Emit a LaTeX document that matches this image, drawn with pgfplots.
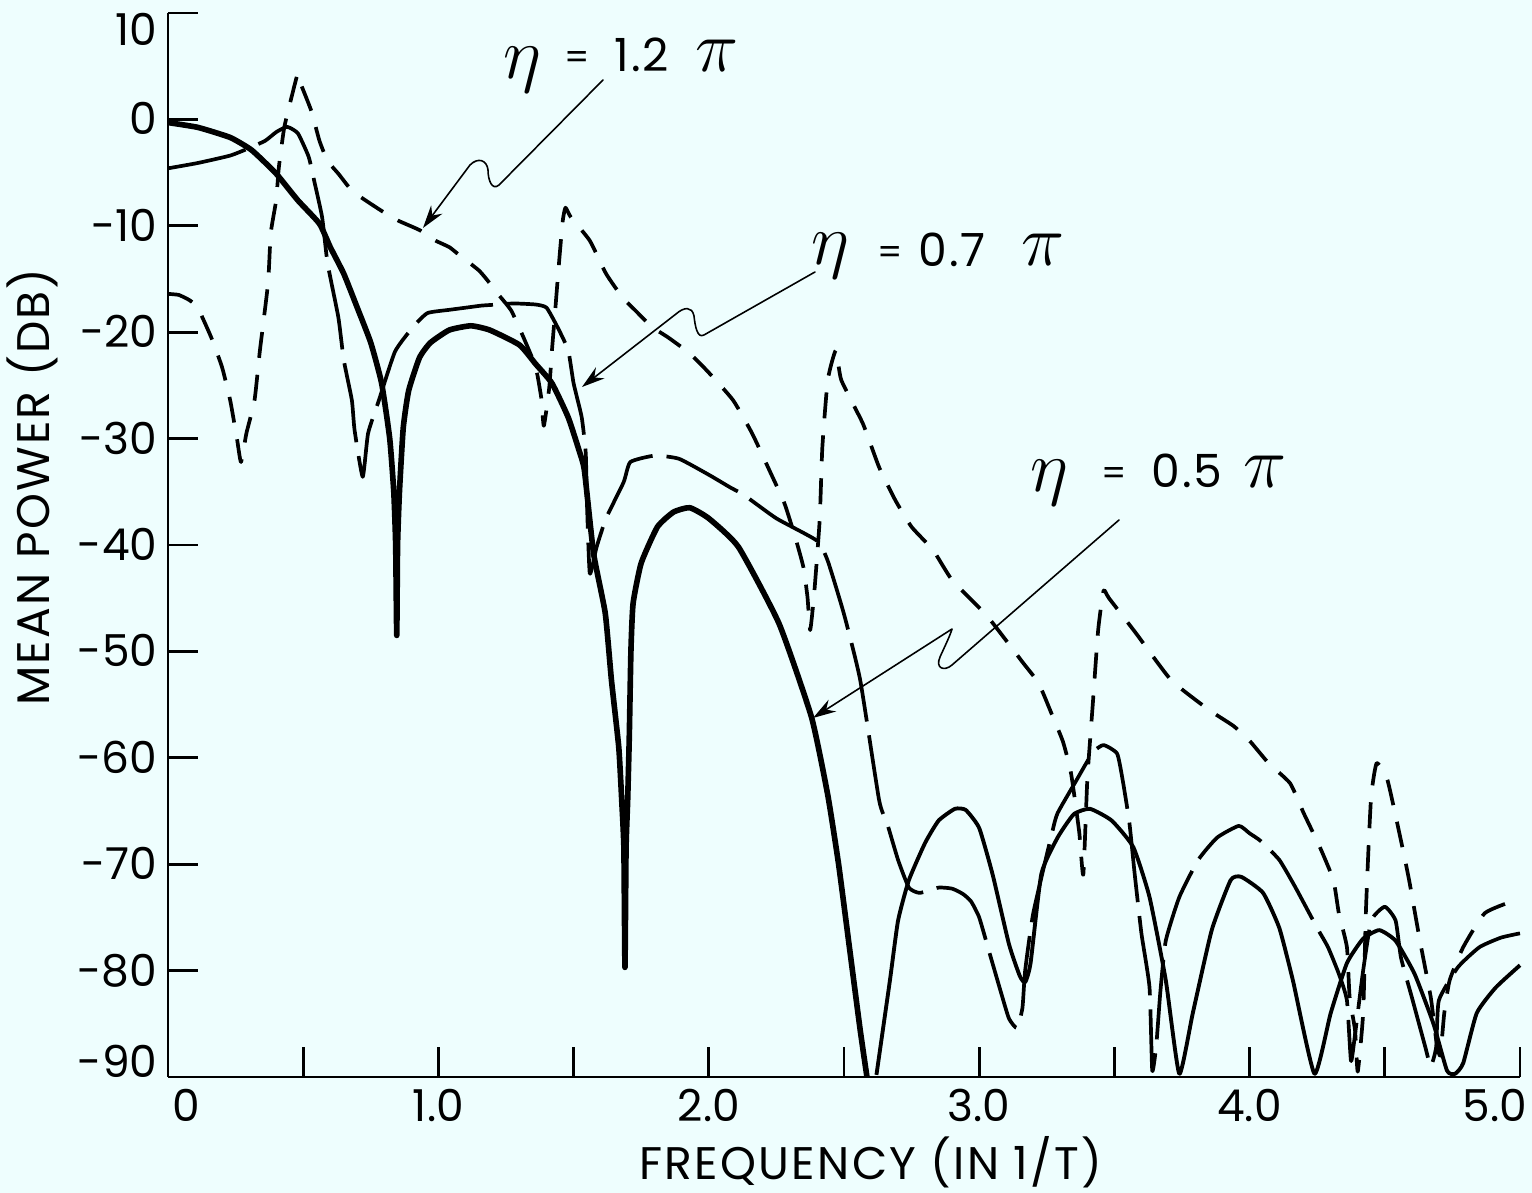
\documentclass[border=0pt]{standalone}
\usepackage{pgfplots}
\pgfplotsset{compat=1.18}
\usepackage{fontspec}
\setmainfont{Poppins}
\usetikzlibrary{arrows.meta}
\definecolor{paper}{RGB}{238,254,254}

\begin{document}
\begin{tikzpicture}[line cap=round, line join=round]
\fill[paper] (0,0) rectangle (153.2mm,119.3mm);
\useasboundingbox (0,0) rectangle (153.2mm,119.3mm);

\begin{axis}[
  at={(16.8mm,11.6mm)}, anchor=south west,
  scale only axis, width=135.2mm, height=106.4mm,
  xmin=0, xmax=5, ymin=-90, ymax=10,
  axis lines=left, axis line style={-, line width=0.8pt},
  tick align=inside, major tick length=3mm,
  tick style={line width=0.8pt, black},
  xtick={0,0.5,1,1.5,2,2.5,3,3.5,4,4.5,5},
  xticklabels={\hspace*{3.6mm}0,,1.0,,2.0,,3.0,,4.0,,5.0\hspace*{5mm}},
  ytick={-90,-80,-70,-60,-50,-40,-30,-20,-10,0,10},
  yticklabels={\raisebox{1.5mm}{-90},-80,-70,-60,-50,-40,-30,-20,-10,0,\raisebox{-1.7mm}{10}},
  tick label style={font=\fontsize{12.5}{15}\selectfont},
  yticklabel style={text height=3.1mm, text depth=0pt, inner sep=1mm},
  xticklabel style={text height=3.1mm, text depth=0pt, inner sep=1.3mm},
  label style={font=\fontsize{13}{15}\selectfont\addfontfeature{LetterSpace=5}},
  xlabel={FREQUENCY (IN 1/T)},
  ylabel={MEAN POWER (DB)},
  xlabel style={at={(axis description cs:0.52,-0.0960)}, anchor=base, inner sep=0pt},
  ylabel style={at={(axis description cs:-0.0873,0.5545)}, anchor=base, inner sep=0pt},
  clip=false,
]

% eta = 0.5 pi, main lobes (heavy line)
\addplot[black, line width=1.6pt, smooth, tension=0.3] coordinates {
(0,-0.3)(0.11,-0.75)(0.23,-1.7)(0.31,-2.9)(0.40,-5.1)(0.48,-7.6)(0.56,-9.8)(0.60,-12.0)
(0.65,-14.5)(0.70,-17.7)(0.75,-21.0)(0.79,-24.8)(0.82,-30)(0.835,-35)(0.842,-40)(0.846,-48.5)
(0.849,-40)(0.856,-35)(0.87,-29)(0.89,-25.5)(0.93,-22.4)(0.97,-21)(1.04,-19.8)(1.12,-19.4)
(1.19,-19.8)(1.30,-21.2)(1.36,-23)(1.42,-24.8)(1.48,-28)(1.52,-31.1)(1.54,-33)(1.574,-40.8)
(1.617,-46.4)(1.64,-52.7)(1.667,-59)(1.678,-64)(1.686,-68.5)(1.69,-79.7)(1.694,-68.5)(1.70,-64)
(1.706,-58)(1.712,-50)(1.72,-45.5)(1.75,-41.7)(1.81,-38.3)(1.87,-36.9)(1.93,-36.5)(2.00,-37.5)
(2.11,-40.2)(2.26,-47.4)(2.38,-56.2)(2.44,-63.5)(2.48,-70)(2.52,-77.8)(2.56,-85.6)(2.585,-90)
};

% eta = 0.5 pi, far sidelobes
\addplot[black, line width=1.1pt, smooth, tension=0.3] coordinates {
(2.62,-89.8)(2.67,-80.9)(2.70,-75.3)(2.74,-71.5)(2.80,-68.0)(2.85,-65.9)(2.91,-64.8)(2.95,-64.9)
(3.00,-66.6)(3.05,-71)(3.11,-77.5)(3.15,-80.5)(3.17,-81.1)(3.19,-79.3)(3.23,-70.9)(3.29,-67.5)
(3.35,-65.3)(3.41,-64.8)(3.49,-65.9)(3.57,-68.4)(3.63,-73.1)(3.69,-80.9)(3.74,-89.7)(3.79,-84)
(3.86,-76.2)(3.93,-71.5)(3.97,-71.2)(4.05,-72.7)(4.11,-76)(4.16,-80.9)(4.24,-89.7)(4.30,-84)
(4.36,-79.3)(4.42,-77)(4.48,-76.2)(4.54,-77.2)(4.61,-80.3)(4.68,-85)(4.73,-89.4)(4.76,-89.7)
(4.79,-88.7)(4.84,-84)(4.91,-81.6)(5.0,-79.5)
};

% eta = 0.7 pi (long dashes)
\addplot[black, line width=1.05pt, dash pattern=on 8mm off 1.4mm, smooth, tension=0.3] coordinates {
(0,-4.6)(0.11,-4.1)(0.23,-3.4)(0.30,-2.7)(0.36,-2.0)(0.40,-1.2)(0.44,-0.7)(0.48,-1.3)(0.52,-3.5)
(0.54,-5.7)(0.57,-9.2)(0.59,-13.5)(0.63,-18.6)(0.65,-22.6)(0.68,-26.4)(0.69,-29.2)(0.72,-33.6)
(0.74,-29.5)(0.78,-26.4)(0.84,-21.8)(0.91,-19.4)(0.96,-18.2)(1.04,-17.9)(1.10,-17.7)(1.16,-17.5)
(1.22,-17.4)(1.28,-17.3)(1.36,-17.4)(1.40,-17.7)(1.44,-19.5)(1.48,-21.7)(1.50,-24.8)(1.53,-28.0)
(1.545,-31.4)(1.55,-36.5)(1.56,-42.7)(1.585,-40.2)(1.62,-37.5)(1.685,-34.1)(1.71,-32.2)(1.80,-31.6)
(1.89,-31.9)(2.00,-33.4)(2.08,-34.6)(2.13,-35.3)(2.25,-37.5)(2.40,-39.6)(2.44,-41.5)(2.50,-46.5)
(2.56,-52.7)(2.63,-64)(2.66,-66.2)(2.70,-69.6)(2.74,-72.2)(2.78,-72.7)(2.85,-72.2)(2.90,-72.3)
(2.94,-72.8)(2.97,-73.5)(3.00,-75)(3.04,-78.5)(3.08,-82)(3.11,-84.5)(3.14,-85.4)(3.16,-83.5)
(3.17,-80)(3.20,-74.6)(3.27,-67)(3.29,-65.2)(3.36,-62.1)(3.42,-59.5)(3.46,-58.8)(3.51,-59.6)
(3.53,-62)(3.555,-66)(3.575,-70.9)(3.60,-76.5)(3.63,-81.6)(3.64,-89.4)(3.655,-87)(3.67,-82)
(3.69,-77.2)(3.74,-73.1)(3.81,-69.6)(3.88,-67.5)(3.96,-66.4)(4.00,-67.1)(4.04,-67.8)(4.11,-69.6)
(4.17,-72.2)(4.25,-76)(4.29,-77.8)(4.33,-80.3)(4.36,-82.8)(4.375,-88.5)(4.39,-86)(4.42,-80)
(4.45,-75.3)(4.50,-74)(4.54,-75.3)(4.56,-78.8)(4.60,-82.5)(4.65,-87.2)(4.67,-89)(4.69,-87.2)
(4.70,-82.8)(4.77,-79.7)(4.85,-77.8)(4.93,-76.9)(5.0,-76.5)
};

% eta = 1.2 pi (short dashes)
\addplot[black, line width=1.05pt, dash pattern=on 2.6mm off 1.7mm, smooth, tension=0.3] coordinates {
(0,-16.4)(0.04,-16.5)(0.08,-17.0)(0.11,-17.7)(0.16,-20.5)(0.20,-23.3)(0.23,-26.4)(0.255,-30)
(0.27,-32.2)(0.29,-29.5)(0.32,-26.4)(0.34,-21.7)(0.37,-15.4)(0.38,-10.7)(0.40,-7.6)(0.41,-4.5)
(0.43,-0.75)(0.46,2.4)(0.48,4.3)(0.49,3.4)(0.53,0.8)(0.56,-2.0)(0.59,-3.9)(0.63,-5.1)(0.68,-6.7)
(0.73,-7.6)(0.79,-8.6)(0.85,-9.5)(0.93,-10.4)(0.99,-11.4)(1.04,-12.0)(1.07,-12.6)(1.15,-14.2)
(1.19,-15.4)(1.22,-16.4)(1.27,-18.0)(1.32,-20.8)(1.36,-23.3)(1.38,-26.1)(1.39,-28.8)(1.41,-25.2)
(1.42,-21.7)(1.43,-18.6)(1.44,-15.4)(1.45,-12.3)(1.46,-9.5)(1.47,-8.3)(1.49,-9.2)(1.56,-11.4)
(1.62,-14.5)(1.68,-16.7)(1.73,-18.0)(1.79,-19.5)(1.85,-20.5)(1.93,-22.0)(2.00,-23.8)(2.09,-26.4)
(2.16,-29.5)(2.23,-33.3)(2.28,-36.1)(2.32,-39.3)(2.35,-42.1)(2.365,-44.9)(2.375,-48.0)(2.39,-44.5)
(2.41,-37.7)(2.42,-30.8)(2.44,-24.5)(2.47,-21.7)(2.49,-24.5)(2.57,-28.6)(2.63,-32.7)(2.69,-35.8)
(2.75,-38.3)(2.83,-40.5)(2.90,-43.3)(3.03,-46.7)(3.16,-51)(3.22,-53)(3.27,-56)(3.31,-58.5)
(3.34,-61.5)(3.37,-67)(3.385,-71)(3.40,-62)(3.42,-55)(3.44,-48)(3.46,-44.3)(3.48,-45)(3.58,-48.3)
(3.71,-52.7)(3.85,-55.5)(3.94,-57)(4.00,-58.4)(4.07,-60.5)(4.15,-62.4)(4.20,-65.2)(4.26,-68.4)
(4.31,-71.5)(4.33,-74.6)(4.36,-77.8)(4.37,-82.5)(4.39,-85.6)(4.40,-89.5)(4.42,-84)(4.43,-74.6)
(4.44,-68.4)(4.45,-63.5)(4.47,-60.5)(4.51,-62.1)(4.56,-67.8)(4.59,-71.5)(4.63,-77.2)(4.67,-82.5)
(4.69,-86.5)(4.705,-88)(4.72,-84)(4.74,-80.9)(4.79,-77.8)(4.87,-74.6)(4.98,-73.4)(5.0,-73.2)
};
\end{axis}

% curve labels and their leader arrows
\begin{scope}[x=0.1mm, y=-0.1mm, shift={(0mm,119.3mm)},
  leader/.style={line width=0.45pt, -{Stealth[length=2.3mm,width=1.4mm]}},
  lbl/.style={anchor=base west, inner sep=0pt, font=\fontsize{13}{15}\selectfont\addfontfeature{LetterSpace=4}},
  eq/.style={anchor=base west, inner sep=0pt, font=\fontsize{10}{12}\selectfont},
  greek/.style={anchor=base west, inner sep=0pt, font=\fontsize{22}{26}\selectfont}]
  \node[greek] at (503,79) {$\eta$};
  \node[eq] at (564,70) {=};
  \node[lbl] at (614,72) {1.2};
  \node[greek] at (695,72) {$\pi$};
  \draw[leader] (603,80) -- (499,185) .. controls (492,191) and (488,180) .. (488,170)
     .. controls (487,160) and (478,157) .. (470,165) -- (423,228);

  \node[greek] at (811,265) {$\eta$};
  \node[eq] at (877,265) {=};
  \node[lbl] at (918,267) {0.7};
  \node[greek] at (1021,266) {$\pi$};
  \draw[leader] (815,272) -- (704,335) .. controls (697,339) and (695,325) .. (694,316)
     .. controls (692,306) and (684,307) .. (676,314) -- (582,387);

  \node[greek] at (1030,492) {$\eta$};
  \node[eq] at (1101,486) {=};
  \node[lbl] at (1151,488) {0.5};
  \node[greek] at (1243,488) {$\pi$};
  \draw[leader] (1119,520) -- (952,665) .. controls (944,672) and (935,668) .. (940,657)
     .. controls (944,648) and (950,636) .. (952,629) -- (813,718);
\end{scope}
\end{tikzpicture}
\end{document}
